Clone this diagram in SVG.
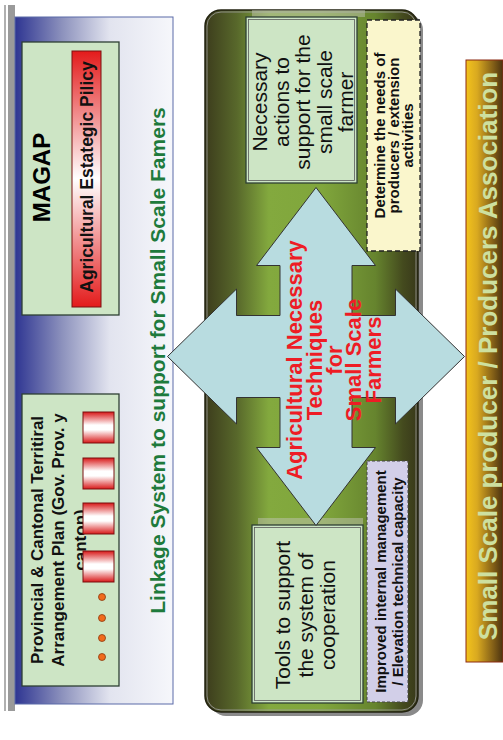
<svg xmlns="http://www.w3.org/2000/svg" width="503" height="740" viewBox="0 0 503 740">
<defs>
<linearGradient id="gBlue" x1="0" y1="0" x2="1" y2="0">
<stop offset="0" stop-color="#2e3592"/><stop offset="0.3" stop-color="#8d92bd"/><stop offset="0.6" stop-color="#e2e4ef"/><stop offset="1" stop-color="#f6f7fb"/>
</linearGradient>
<linearGradient id="gRedV" x1="0" y1="0" x2="0" y2="1">
<stop offset="0" stop-color="#e31b1b"/><stop offset="0.5" stop-color="#ffffff"/><stop offset="1" stop-color="#e31b1b"/>
</linearGradient>
<linearGradient id="gSq" x1="0" y1="0" x2="0" y2="1">
<stop offset="0" stop-color="#d81818"/><stop offset="0.42" stop-color="#ffffff"/><stop offset="0.58" stop-color="#ffffff"/><stop offset="1" stop-color="#d81818"/>
</linearGradient>
<linearGradient id="gGreen" x1="0" y1="0" x2="1" y2="0">
<stop offset="0" stop-color="#3c3c1c"/><stop offset="0.15" stop-color="#58682b"/><stop offset="0.3" stop-color="#83a93e"/><stop offset="0.55" stop-color="#80a63c"/><stop offset="0.8" stop-color="#66842e"/><stop offset="0.93" stop-color="#444a1e"/><stop offset="1" stop-color="#38381a"/>
</linearGradient>
<linearGradient id="gOrange" x1="0" y1="0" x2="1" y2="0">
<stop offset="0" stop-color="#f3c31c"/><stop offset="0.3" stop-color="#d9a920"/><stop offset="0.7" stop-color="#8a6518"/><stop offset="1" stop-color="#4a3210"/>
</linearGradient>
</defs>
<style>
text{font-family:"Liberation Sans",Arial,Helvetica,sans-serif;}
.b{font-weight:bold;}
.box{fill:#cde5c5;stroke:#2d3f33;stroke-width:1.3;}
.inner{fill:none;stroke:#5a5a5a;stroke-width:0.8;}
.sq{fill:url(#gSq);stroke:#7a1010;stroke-width:1;}
.dot{fill:#f06a1c;stroke:#8a3a10;stroke-width:0.8;}
.strip{fill:#c8c8c0;opacity:0.45;}
</style>
<rect width="503" height="740" fill="#ffffff"/>
<g id="sidebar">
<rect x="4" y="5" width="2" height="706" fill="#b0b0b0"/>
<rect x="8" y="5" width="7" height="706" fill="#9a9a9a"/>
</g>
<g id="linkage-panel">
<rect x="15" y="17" width="158" height="687" fill="url(#gBlue)" stroke="#5b6aa8" stroke-width="1"/>
<text class="b" transform="translate(164.5,360.5) rotate(-90)" text-anchor="middle" font-size="21" fill="#1e7a3c">Linkage System to support for Small Scale Famers</text>
</g>
<g id="magap">
<rect class="box" x="22" y="42" width="97" height="273"/>
<text class="b" transform="translate(50,177.5) rotate(-90)" text-anchor="middle" font-size="24" fill="#000">MAGAP</text>
</g>
<g id="policy">
<rect x="72" y="51" width="29" height="256" fill="url(#gRedV)" stroke="#7a1010" stroke-width="1"/>
<text class="b" transform="translate(93,177) rotate(-90)" text-anchor="middle" font-size="17.5" fill="#111">Agricultural Estategic Pilicy</text>
</g>
<g id="provincial">
<rect class="box" x="22" y="394" width="97" height="292"/>
<text class="b" transform="translate(42.5,540) rotate(-90)" text-anchor="middle" font-size="17" fill="#111"><tspan x="0" dy="0">Provincial &amp; Cantonal Territiral</tspan><tspan x="0" dy="21.5">Arrangement Plan  (Gov. Prov. y</tspan><tspan x="0" dy="21.5">canton)</tspan></text>
<rect class="sq" x="83" y="412" width="31" height="31"/>
<rect class="sq" x="83" y="458" width="31" height="31"/>
<rect class="sq" x="83" y="503" width="31" height="31"/>
<rect class="sq" x="83" y="551" width="31" height="31"/>
<circle class="dot" cx="102" cy="597" r="3.5"/>
<circle class="dot" cx="102" cy="618" r="3.5"/>
<circle class="dot" cx="102" cy="638" r="3.5"/>
<circle class="dot" cx="102" cy="657" r="3.5"/>
</g>
<g id="techniques-panel">
<rect x="210" y="14" width="213" height="702" rx="16" fill="#8a8a8a"/>
<rect x="205" y="10" width="213" height="702" rx="16" fill="url(#gGreen)" stroke="#222210" stroke-width="1.5"/>
<rect x="207" y="12" width="209" height="698" rx="14" fill="none" stroke="#a0a0a0" stroke-width="0.8"/>
<rect class="strip" x="252" y="10" width="113" height="7"/>
<rect class="strip" x="258" y="518" width="105" height="7"/>
</g>
<g id="necessary-actions">
<rect class="box" x="246" y="17" width="111" height="166"/>
<rect class="inner" x="248.5" y="19.5" width="106" height="161"/>
<text transform="translate(267,102) rotate(-90)" text-anchor="middle" font-size="21" fill="#111"><tspan x="0" dy="0">Necessary</tspan><tspan x="0" dy="21.5">actions to</tspan><tspan x="0" dy="21.5">support for the</tspan><tspan x="0" dy="21.5">small scale</tspan><tspan x="0" dy="21.5">farmer</tspan></text>
</g>
<g id="determine-needs">
<rect x="367" y="20" width="53" height="231" fill="#faf6cc" stroke="#222" stroke-width="1.3" stroke-dasharray="5,3"/>
<text class="b" transform="translate(385,135.5) rotate(-90)" text-anchor="middle" font-size="15" fill="#111"><tspan x="0" dy="0">Determine the needs of</tspan><tspan x="0" dy="14">producers / extension</tspan><tspan x="0" dy="14">activities</tspan></text>
</g>
<g id="tools">
<rect class="box" x="252" y="525" width="111" height="178"/>
<rect class="inner" x="254.5" y="527.5" width="106" height="173"/>
<text transform="translate(290,615) rotate(-90)" text-anchor="middle" font-size="21" fill="#111"><tspan x="0" dy="0">Tools to support</tspan><tspan x="0" dy="22.5">the system of</tspan><tspan x="0" dy="22.5">cooperation</tspan></text>
</g>
<g id="improved-management">
<rect x="367" y="461" width="41" height="241" fill="#d2cfe8" stroke="#444" stroke-width="1" stroke-dasharray="3,2"/>
<text class="b" transform="translate(386,581.5) rotate(-90)" text-anchor="middle" font-size="15" fill="#111"><tspan x="0" dy="0">Improved internal management</tspan><tspan x="0" dy="17">/ Elevation technical capacity</tspan></text>
</g>
<g id="connectors">
<path d="M316,187.5 L375.5,265.5 L352,265.5 L352,315.5 L395.5,315.5 L395.5,289 L464.5,356.5 L395.5,424 L395.5,397.5 L352,397.5 L352,447.5 L375.5,447.5 L316,525.5 L256.5,447.5 L280,447.5 L280,397.5 L236.5,397.5 L236.5,424 L167.5,356.5 L236.5,289 L236.5,315.5 L280,315.5 L280,265.5 L256.5,265.5 Z" fill="#b8dce0" stroke="#333" stroke-width="1"/>
</g>
<g id="techniques">
<text class="b" transform="translate(302,360) rotate(-90)" text-anchor="middle" font-size="22" fill="#ee1c25"><tspan x="0" dy="0">Agricultural Necessary</tspan><tspan x="0" dy="19.75">Techniques</tspan><tspan x="0" dy="19.75">for</tspan><tspan x="0" dy="19.75">Small Scale</tspan><tspan x="0" dy="19.75">Farmers</tspan></text>
</g>
<g id="association">
<rect x="466" y="60" width="37" height="602" fill="url(#gOrange)" stroke="#8c2a12" stroke-width="1"/>
<text class="b" transform="translate(496.5,356) rotate(-90)" text-anchor="middle" font-size="26" fill="#cde0a0">Small Scale producer / Producers Association</text>
</g>
</svg>
